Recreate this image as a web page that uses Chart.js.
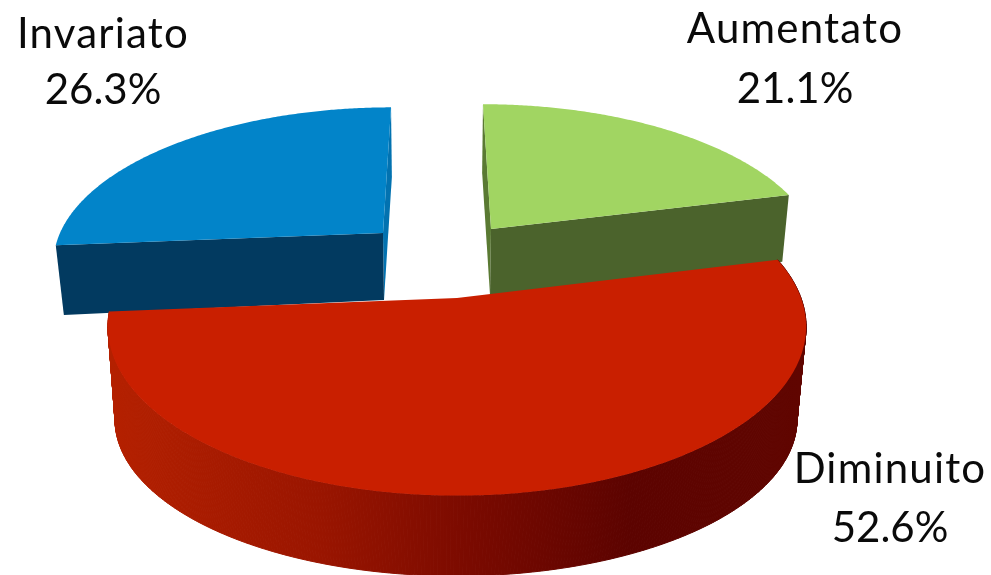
<!DOCTYPE html>
<html>
<head>
<meta charset="utf-8">
<style>html,body{margin:0;padding:0;background:#fff}canvas{display:block}</style>
<script src="https://cdn.jsdelivr.net/npm/chart.js@4"></script>
</head>
<body>
<canvas id="c" width="991" height="575"></canvas>
<script>
const categories = ['Aumentato', 'Diminuito', 'Invariato'];
const shares = [21.1, 52.6, 26.3];
const topColors = ['#A1D562', '#C91F00', '#0284C9'];

// Perspective pose of each exploded slice: upper face and lower rim
const poses = [
  {top: {cx: 491, cy: 229, a: 322, s: 9.4, b: 0, e: 146, k: .17},
   low: {cx: 490, cy: 295, a: 316, s: 9.2, b: 0, e: 143, k: .17}},
  {top: {cx: 457, cy: 298, a: 344, s: 0, b: 0, e: 164, k: .17},
   low: {cx: 456, cy: 401, a: 338.5, s: 0, b: 0, e: 154, k: .12}},
  {top: {cx: 383, cy: 233, a: 323, s: -9.4, b: 0, e: 147, k: .17},
   low: {cx: 384, cy: 300, a: 316, s: -9.2, b: -3, e: 144, k: .17}}
];
const walls = [
  {side: '#5A7A33', front: '#4B632C'},
  {ramp: [[0, '#B42000'], [.3, '#9A1500'], [.52, '#7A0A00'], [.75, '#5C0300'], [1, '#600500']]},
  {side: '#0272B0', front: '#023A60'}
];
const labelSpots = [
  {x: 795, nameY: 43, shareY: 103},
  {x: 890, nameY: 483, shareY: 542},
  {x: 103, nameY: 48, shareY: 104}
];
const paintOrder = [2, 0, 1];

function project(p, ang) {
  const u = Math.cos(ang), v = Math.sin(ang), d = 1 - p.k * v;
  return [p.cx + (p.a * u + p.s * v) / d, p.cy + (p.b * u + p.e * v) / d];
}
function poly(ctx, pts, fill, edge) {
  ctx.beginPath();
  pts.forEach((q, i) => i ? ctx.lineTo(q[0], q[1]) : ctx.moveTo(q[0], q[1]));
  ctx.closePath();
  ctx.fillStyle = fill;
  ctx.fill();
  if (edge) { ctx.strokeStyle = fill; ctx.lineWidth = 1; ctx.stroke(); }
}
function arcAngles(a0, a1) {
  const n = Math.max(8, Math.ceil(Math.abs(a1 - a0) * 120)), out = [];
  for (let i = 0; i <= n; i++) out.push(a0 + (a1 - a0) * i / n);
  return out;
}

const pie3d = {
  id: 'pie3d',
  beforeDatasetDraw(chart) {
    const ctx = chart.ctx, arcs = chart.getDatasetMeta(0).data;
    ctx.save();
    paintOrder.forEach(i => {
      const el = arcs[i].getProps(['startAngle', 'endAngle']);
      const p = poses[i], w = walls[i], a0 = el.startAngle, a1 = el.endAngle;
      const angles = arcAngles(a0, a1);
      if (w.ramp) {
        const g = ctx.createLinearGradient(p.top.cx - p.top.a, 0, p.top.cx + p.top.a, 0);
        w.ramp.forEach(s => g.addColorStop(s[0], s[1]));
        for (let j = 0; j < angles.length - 1; j++) {
          poly(ctx, [project(p.top, angles[j]), project(p.top, angles[j + 1]),
                     project(p.low, angles[j + 1]), project(p.low, angles[j])], g, true);
        }
      } else {
        const farEnd = Math.sin(a0) < Math.sin(a1) ? a0 : a1;
        const nearEnd = farEnd === a0 ? a1 : a0;
        const hubTop = [p.top.cx, p.top.cy], hubLow = [p.low.cx, p.low.cy];
        poly(ctx, [hubTop, project(p.top, farEnd), project(p.low, farEnd), hubLow], w.side);
        poly(ctx, [hubTop, project(p.top, nearEnd), project(p.low, nearEnd), hubLow], w.front);
      }
      poly(ctx, [[p.top.cx, p.top.cy]].concat(angles.map(a => project(p.top, a))), arcs[i].options.backgroundColor);
    });
    ctx.restore();
    return false;
  },
  afterDatasetsDraw(chart) {
    const ctx = chart.ctx;
    ctx.save();
    ctx.fillStyle = '#0A0A0A';
    ctx.font = '42px Lato';
    ctx.textAlign = 'center';
    ctx.textBaseline = 'alphabetic';
    categories.forEach((name, i) => {
      const s = labelSpots[i];
      ctx.letterSpacing = '1.2px';
      ctx.fillText(name, s.x, s.nameY);
      ctx.letterSpacing = '0px';
      ctx.fillText(shares[i].toFixed(1) + '%', s.x, s.shareY);
    });
    ctx.restore();
  }
};

new Chart(document.getElementById('c'), {
  type: 'pie',
  data: {labels: categories, datasets: [{data: shares, backgroundColor: topColors, borderWidth: 0}]},
  options: {
    responsive: false,
    animation: false,
    events: [],
    rotation: 0,
    plugins: {legend: {display: false}, tooltip: {enabled: false}}
  },
  plugins: [pie3d]
});
</script>
</body>
</html>
